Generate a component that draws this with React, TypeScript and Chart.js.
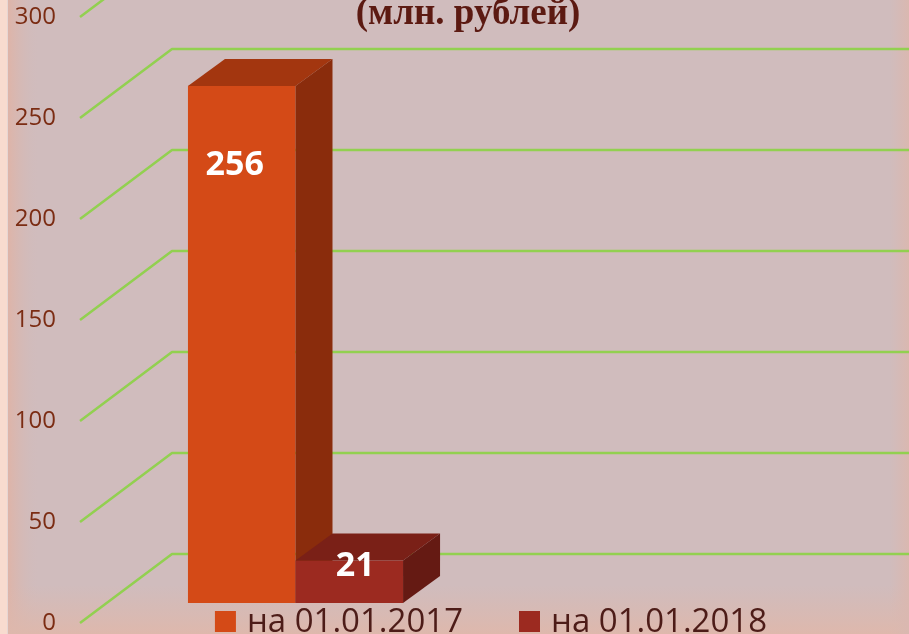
import React, { useEffect, useRef } from 'react';
import { Chart, registerables } from 'chart.js';

Chart.register(...registerables);

// ---- data ----
const categories = [''];
const seriesLabels = ['на 01.01.2017', 'на 01.01.2018'];
const values2017 = [256];
const values2018 = [21];
const yTickStep = 50;
const yMin = 0;
const yMax = 300;
const titleText = '(млн. рублей)';

// ---- styles ----
const frontColors = ['#d44a17', '#9c2a20'];
const topColors = ['#a3360f', '#7a2017'];
const sideColors = ['#8a2c0c', '#651a13'];
const gridColor = '#92d050';
const bgColor = '#d0bcbd';

const WALL_DX = 92;
const WALL_DY = -69;
const BAR_OX = 26.5;
const BAR_OY = -20;
const BAR_DX = 37;
const BAR_DY = -27;

const threeDPlugin = {
  id: 'threeD',
  beforeDraw(chart: any) {
    const { ctx, width, height } = chart;
    ctx.save();
    ctx.fillStyle = bgColor;
    ctx.fillRect(0, 0, width, height);
    let g = ctx.createLinearGradient(8, 0, 40, 0);
    g.addColorStop(0, 'rgba(222,180,168,1)');
    g.addColorStop(1, 'rgba(208,188,189,0)');
    ctx.fillStyle = g;
    ctx.fillRect(8, 0, 32, height);
    ctx.fillStyle = '#f8dbcf';
    ctx.fillRect(0, 0, 7, height);
    ctx.fillStyle = '#e6d6d4';
    ctx.fillRect(7, 0, 1, height);
    g = ctx.createLinearGradient(0, 585, 0, height);
    g.addColorStop(0, 'rgba(220,184,174,0)');
    g.addColorStop(1, 'rgba(222,184,172,1)');
    ctx.fillStyle = g;
    ctx.fillRect(8, 585, width - 8, height - 585);
    g = ctx.createLinearGradient(890, 0, width, 0);
    g.addColorStop(0, 'rgba(218,184,176,0)');
    g.addColorStop(1, 'rgba(218,184,176,1)');
    ctx.fillStyle = g;
    ctx.fillRect(890, 0, width - 890, height);
    ctx.restore();
  },
  beforeDatasetsDraw(chart: any) {
    const { ctx, width, chartArea, scales } = chart;
    const y = scales.y;
    ctx.save();
    ctx.strokeStyle = gridColor;
    ctx.lineWidth = 2.5;
    ctx.lineJoin = 'round';
    for (let v = yMin; v <= yMax; v += yTickStep) {
      const py = Math.round(y.getPixelForValue(v));
      ctx.beginPath();
      ctx.moveTo(chartArea.left, py);
      ctx.lineTo(chartArea.left + WALL_DX, py + WALL_DY);
      ctx.lineTo(width, py + WALL_DY);
      ctx.stroke();
    }
    chart.data.datasets.forEach((ds: any, i: number) => {
      const meta = chart.getDatasetMeta(i);
      meta.data.forEach((el: any) => {
        const p = el.getProps(['x', 'y', 'base', 'width'], true);
        const l = p.x - p.width / 2 + BAR_OX;
        const r = p.x + p.width / 2 + BAR_OX;
        const t = p.y + BAR_OY;
        const b = p.base + BAR_OY;
        ctx.fillStyle = frontColors[i];
        ctx.fillRect(l, t, r - l, b - t);
        ctx.fillStyle = topColors[i];
        ctx.beginPath();
        ctx.moveTo(l, t);
        ctx.lineTo(r, t);
        ctx.lineTo(r + BAR_DX, t + BAR_DY);
        ctx.lineTo(l + BAR_DX, t + BAR_DY);
        ctx.closePath();
        ctx.fill();
        ctx.fillStyle = sideColors[i];
        ctx.beginPath();
        ctx.moveTo(r, t);
        ctx.lineTo(r + BAR_DX, t + BAR_DY);
        ctx.lineTo(r + BAR_DX, b + BAR_DY);
        ctx.lineTo(r, b);
        ctx.closePath();
        ctx.fill();
      });
    });
    ctx.restore();
  },
  afterDatasetsDraw(chart: any) {
    const { ctx } = chart;
    ctx.save();
    ctx.fillStyle = '#ffffff';
    ctx.font = 'bold 34px "Open Sans"';
    ctx.textAlign = 'center';
    ctx.textBaseline = 'middle';
    const nudges = [-7, 6];
    chart.data.datasets.forEach((ds: any, i: number) => {
      const meta = chart.getDatasetMeta(i);
      meta.data.forEach((el: any, j: number) => {
        const p = el.getProps(['x', 'y', 'base', 'width'], true);
        const cx = p.x + BAR_OX + nudges[i];
        const t = p.y + BAR_OY;
        const midCenter = (p.y + p.base) / 2 + BAR_OY + BAR_DY / 2;
        const ly = Math.min(t + 79, midCenter - 2);
        ctx.fillText(String(ds.data[j]), cx, ly);
      });
    });
    ctx.restore();
  },
  afterDraw(chart: any) {
    const { ctx } = chart;
    ctx.save();
    ctx.fillStyle = '#5c1a12';
    ctx.font = 'bold 37px "Liberation Serif"';
    ctx.textAlign = 'center';
    ctx.textBaseline = 'alphabetic';
    ctx.fillText(titleText, 468, 24);
    ctx.font = '33px "Open Sans"';
    ctx.textAlign = 'left';
    const box = 21;
    const gapBox = 11;
    const gapItem = 56;
    const widths = chart.data.datasets.map((ds: any) => box + gapBox + ctx.measureText(ds.label).width);
    const total = widths.reduce((a: number, b: number) => a + b, 0) + gapItem * (widths.length - 1);
    let x = 491 - total / 2;
    const baseY = 632;
    chart.data.datasets.forEach((ds: any, i: number) => {
      ctx.fillStyle = frontColors[i];
      ctx.fillRect(x, 611, box, box);
      ctx.fillStyle = '#4d1c18';
      ctx.fillText(ds.label, x + box + gapBox, baseY);
      x += widths[i] + gapItem;
    });
    ctx.restore();
  },
};

export default function App() {
  const ref = useRef<HTMLCanvasElement>(null);
  useEffect(() => {
    if (!ref.current) return;
    const chart = new Chart(ref.current, {
      type: 'bar',
      data: {
        labels: categories,
        datasets: [
          { label: seriesLabels[0], data: values2017, backgroundColor: 'rgba(0,0,0,0)' },
          { label: seriesLabels[1], data: values2018, backgroundColor: 'rgba(0,0,0,0)' },
        ],
      },
      options: {
        animation: false,
        responsive: true,
        maintainAspectRatio: false,
        layout: { padding: { left: 0, right: 451, top: 17, bottom: 11 } },
        plugins: { legend: { display: false }, title: { display: false }, tooltip: { enabled: false } },
        datasets: { bar: { barPercentage: 1, categoryPercentage: 0.569 } },
        scales: {
          x: { display: false },
          y: {
            min: yMin,
            max: yMax,
            ticks: {
              stepSize: yTickStep,
              padding: 24,
              color: '#7b2c13',
              font: { family: '"Open Sans"', size: 24, lineHeight: 0.8 },
            },
            grid: { display: false, drawTicks: false },
            border: { display: false },
            afterFit(scale: any) {
              scale.width = 80;
              scale.paddingTop = 0;
              scale.paddingBottom = 0;
            },
          },
        },
      },
      plugins: [threeDPlugin],
    });
    return () => chart.destroy();
  }, []);
  return (
    <div style={{ position: 'fixed', left: 0, top: 0, width: 909, height: 634 }}>
      <canvas ref={ref} />
    </div>
  );
}
